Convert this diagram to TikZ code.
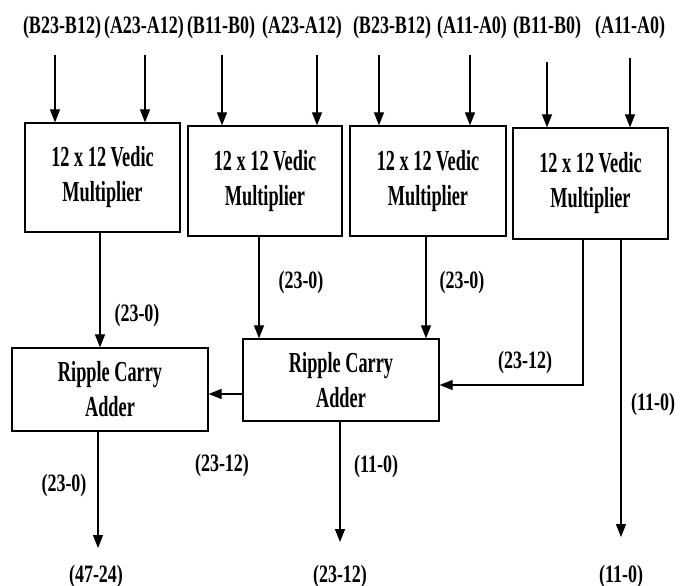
\documentclass[tikz,border=0pt]{standalone}
\usepackage{fontspec}
\setmainfont{Liberation Serif}
\usepackage{graphicx}
\usetikzlibrary{arrows.meta}
\newcommand{\cz}[1]{\scalebox{0.63}[1]{#1}}
\newcommand{\lz}[1]{\scalebox{0.72}[1]{#1}}
\begin{document}
\begin{tikzpicture}[x=1pt,y=-1pt,
  blk/.style={draw, line width=1.3pt, inner sep=0pt, align=center, font=\fontsize{29}{35}\selectfont\bfseries},
  lbl/.style={inner sep=0pt, font=\fontsize{25}{27}\selectfont\bfseries},
  conn/.style={line width=1.2pt, -{Triangle[width=10pt,length=13pt]}}]
\useasboundingbox (0,0) rectangle (689,586);

% multipliers
\node[blk, minimum width=155pt, minimum height=109pt] (M1) at (102.5,177.5) {\cz{12 x 12 Vedic}\\\cz{Multiplier}};
\node[blk, minimum width=154pt, minimum height=110pt] (M2) at (265,181) {\cz{12 x 12 Vedic}\\\cz{Multiplier}};
\node[blk, minimum width=156pt, minimum height=110pt] (M3) at (428,181) {\cz{12 x 12 Vedic}\\\cz{Multiplier}};
\node[blk, minimum width=155pt, minimum height=111pt] (M4) at (590.5,183.5) {\cz{12 x 12 Vedic}\\\cz{Multiplier}};

% adders
\node[blk, minimum width=196pt, minimum height=83pt] (R1) at (110,389.5) {\cz{Ripple Carry}\\\cz{Adder}};
\node[blk, minimum width=196pt, minimum height=82pt] (R2) at (341,380) {\cz{Ripple Carry}\\\cz{Adder}};

% top input labels
\node[lbl] (t1) at (62,27) {\lz{(B23-B12)}};
\node[lbl] (t2) at (144,27) {\lz{(A23-A12)}};
\node[lbl] (t3) at (221,27) {\lz{(B11-B0)}};
\node[lbl] (t4) at (302,27) {\lz{(A23-A12)}};
\node[lbl] (t5) at (392,27) {\lz{(B23-B12)}};
\node[lbl] (t6) at (472,27) {\lz{(A11-A0)}};
\node[lbl] (t7) at (547,27) {\lz{(B11-B0)}};
\node[lbl] (t8) at (630,27) {\lz{(A11-A0)}};

% input arrow starts
\coordinate (i1) at (55,55);
\coordinate (i2) at (145,55);
\coordinate (i3) at (222,55);
\coordinate (i4) at (317,55);
\coordinate (i5) at (379,55);
\coordinate (i6) at (470,55);
\coordinate (i7) at (547,62);
\coordinate (i8) at (630,58);

\draw[conn] (i1) -- (i1 |- M1.north);
\draw[conn] (i2) -- (i2 |- M1.north);
\draw[conn] (i3) -- (i3 |- M2.north);
\draw[conn] (i4) -- (i4 |- M2.north);
\draw[conn] (i5) -- (i5 |- M3.north);
\draw[conn] (i6) -- (i6 |- M3.north);
\draw[conn] (i7) -- (i7 |- M4.north);
\draw[conn] (i8) -- (i8 |- M4.north);

% multipliers to adders
\draw[conn] (M1.south -| 100,0) -- (R1.north -| 100,0);
\draw[conn] (M2.south -| 259,0) -- (R2.north -| 259,0);
\draw[conn] (M3.south -| 426,0) -- (R2.north -| 426,0);
\draw[conn] (M4.south -| 583,0) |- (R2.east |- 0,385);
\draw[conn] (R2.west |- 0,394) -- (R1.east |- 0,394);

% outputs
\coordinate (o1) at (98,548);
\coordinate (o2) at (340,542);
\coordinate (o3) at (621,537);
\draw[conn] (R1.south -| o1) -- (o1);
\draw[conn] (R2.south -| o2) -- (o2);
\draw[conn] (M4.south -| o3) -- (o3);

% connector labels
\node[lbl] (l1) at (137,315) {\lz{(23-0)}};
\node[lbl] (l2) at (301,282) {\lz{(23-0)}};
\node[lbl] (l3) at (462,282) {\lz{(23-0)}};
\node[lbl] (l4) at (525,362) {\lz{(23-12)}};
\node[lbl] (l5) at (653,404) {\lz{(11-0)}};
\node[lbl] (l6) at (222,465) {\lz{(23-12)}};
\node[lbl] (l7) at (376,466) {\lz{(11-0)}};
\node[lbl] (l8) at (64,485) {\lz{(23-0)}};

% output labels
\node[lbl] (b1) at (96,576) {\lz{(47-24)}};
\node[lbl] (b2) at (340,576) {\lz{(23-12)}};
\node[lbl] (b3) at (621,576) {\lz{(11-0)}};
\end{tikzpicture}
\end{document}
